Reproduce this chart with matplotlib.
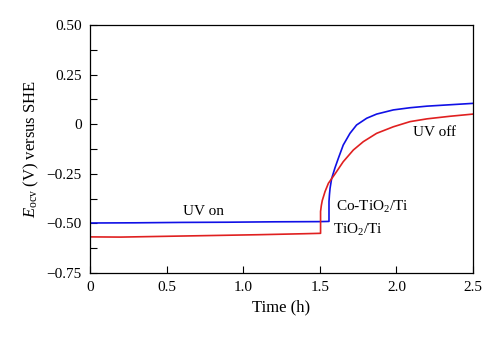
import matplotlib
matplotlib.use("Agg")
import matplotlib.pyplot as plt
from matplotlib.ticker import MultipleLocator, FuncFormatter

plt.rcParams['font.family'] = ['Liberation Serif', 'DejaVu Serif']
plt.rcParams['mathtext.fontset'] = 'custom'
plt.rcParams['mathtext.rm'] = 'Liberation Serif'
plt.rcParams['mathtext.it'] = 'Liberation Serif:italic'

# Co-TiO2/Ti (blue)
t_co = [0.0, 0.3, 0.6, 0.9, 1.2, 1.5, 1.56, 1.56, 1.563, 1.567, 1.577, 1.599, 1.621, 1.653, 1.697, 1.74, 1.806, 1.871,
        1.98, 2.089, 2.2, 2.35, 2.5]
e_co = [-0.498, -0.497, -0.495, -0.494, -0.492, -0.491, -0.49, -0.39, -0.355, -0.323, -0.275, -0.22, -0.172, -0.105,
        -0.046, -0.004, 0.030, 0.051, 0.072, 0.083, 0.091, 0.098, 0.105]

# TiO2/Ti (red)
t_ti = [0.0, 0.2, 0.5, 0.8, 1.1, 1.4, 1.505, 1.505, 1.51, 1.516, 1.534, 1.556, 1.599, 1.653, 1.719, 1.784, 1.871,
        1.98, 2.089, 2.2, 2.35, 2.5]
e_ti = [-0.568, -0.569, -0.565, -0.561, -0.557, -0.552, -0.55, -0.44, -0.41, -0.385, -0.34, -0.298, -0.251, -0.189,
        -0.13, -0.088, -0.046, -0.013, 0.013, 0.027, 0.040, 0.051]

fig = plt.figure(figsize=(5.0, 3.41), dpi=100)
ax = fig.add_axes([90/500, 1-273/341, 383/500, 248/341])

ax.plot(t_co, e_co, color='#1010e6', lw=1.2)
ax.plot(t_ti, e_ti, color='#e02020', lw=1.2)

ax.set_xlim(0, 2.5)
ax.set_ylim(-0.75, 0.5)
ax.xaxis.set_major_locator(MultipleLocator(0.5))
ax.yaxis.set_major_locator(MultipleLocator(0.25))
ax.yaxis.set_minor_locator(MultipleLocator(0.125))

def xfmt(v, p):
    return '0' if abs(v) < 1e-9 else f'{v:.1f}'
def yfmt(v, p):
    return '0' if abs(v) < 1e-9 else f'{v:.2f}'.replace('-', '\u2212')
ax.xaxis.set_major_formatter(FuncFormatter(xfmt))
ax.yaxis.set_major_formatter(FuncFormatter(yfmt))

ax.tick_params(axis='both', which='both', direction='in', top=False, right=False, labelsize=11, width=0.8)
ax.tick_params(axis='both', which='major', length=5, pad=6)
ax.tick_params(axis='y', which='minor', length=5)
ax.tick_params(axis='x', which='minor', bottom=False)
for s in ax.spines.values():
    s.set_linewidth(0.9)

ax.set_xlabel('Time (h)', fontsize=12, labelpad=4)
ax.set_ylabel(r'$E_{\mathrm{ocv}}$ (V) versus SHE', fontsize=12, labelpad=4)

ax.text(0.74, -0.44, 'UV on', fontsize=11, ha='center', va='center')
ax.text(2.25, -0.043, 'UV off', fontsize=11, ha='center', va='center')
ax.text(1.606, -0.416, r'Co-TiO$_2$/Ti', fontsize=11, ha='left', va='center')
ax.text(1.587, -0.533, r'TiO$_2$/Ti', fontsize=11, ha='left', va='center')

fig.savefig('out.png', dpi=100)
